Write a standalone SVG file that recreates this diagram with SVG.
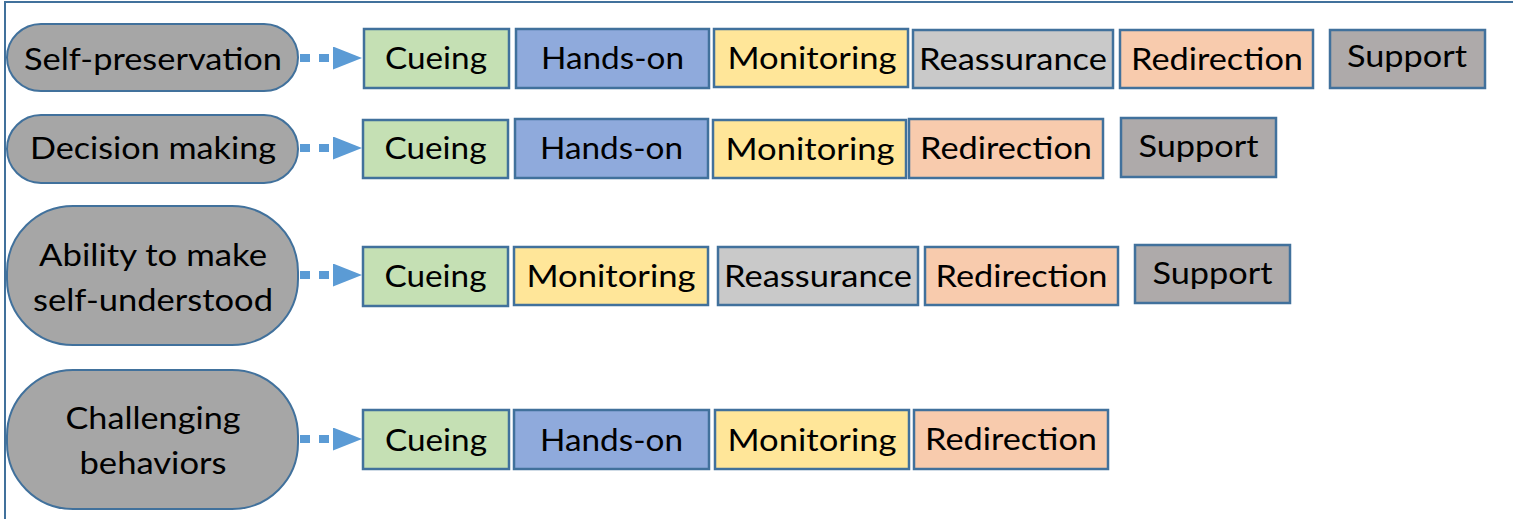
<svg xmlns="http://www.w3.org/2000/svg" width="1513" height="519" viewBox="0 0 1513 519">
<style>
  text { font-family: Lato, "Open Sans", "Liberation Sans", sans-serif; font-size: 31px; fill: #000; text-anchor: middle; }
  .pill { fill: #a6a6a6; stroke: #41719c; stroke-width: 2; }
  .box { stroke: #41719c; stroke-width: 2.5; }
  .cue { fill: #c5e0b4; }
  .hands { fill: #8faadc; }
  .mon { fill: #ffe699; }
  .reas { fill: #c9c9c9; }
  .redir { fill: #f8cbad; }
  .sup { fill: #aeaaaa; }
  .conn { stroke: #5b9bd5; stroke-width: 8; stroke-dasharray: 10 9; fill: none; }
  .frame { stroke: #41719c; stroke-width: 2; fill: none; }
</style>
<defs>
  <marker id="arrow" markerUnits="userSpaceOnUse" markerWidth="30" markerHeight="24" refX="0" refY="11.5" orient="auto">
    <path d="M0,0 L29,11.5 L0,23 Z" fill="#5b9bd5"/>
  </marker>
</defs>
<rect width="1513" height="519" fill="#fff"/>
<path class="frame" d="M5,519 L5,2 L1513,2"/>

<g id="connectors">
  <path class="conn" d="M300,58 L333,58" marker-end="url(#arrow)"/>
  <path class="conn" d="M300,148 L333,148" marker-end="url(#arrow)"/>
  <path class="conn" d="M300,275 L333,275" marker-end="url(#arrow)"/>
  <path class="conn" d="M300,439 L333,439" marker-end="url(#arrow)"/>
</g>

<g id="row1">
  <g id="self-preservation">
    <rect class="pill" x="7" y="24" width="291" height="67" rx="34" ry="33.5"/>
    <text x="153" y="70" textLength="258" lengthAdjust="spacingAndGlyphs">Self-preservation</text>
  </g>
  <g id="r1-cueing"><rect class="box cue" x="364" y="29" width="145" height="59"/><text x="436" y="69" textLength="102" lengthAdjust="spacingAndGlyphs">Cueing</text></g>
  <g id="r1-hands"><rect class="box hands" x="516" y="29" width="193" height="59"/><text x="612.5" y="69" textLength="143" lengthAdjust="spacingAndGlyphs">Hands-on</text></g>
  <g id="r1-monitoring"><rect class="box mon" x="714" y="29" width="194" height="58"/><text x="812" y="69" textLength="169" lengthAdjust="spacingAndGlyphs">Monitoring</text></g>
  <g id="r1-reassurance"><rect class="box reas" x="913" y="30" width="200" height="58"/><text x="1013" y="70" textLength="188" lengthAdjust="spacingAndGlyphs">Reassurance</text></g>
  <g id="r1-redirection"><rect class="box redir" x="1120" y="30" width="193" height="58"/><text x="1217" y="70" textLength="172" lengthAdjust="spacingAndGlyphs">Redirection</text></g>
  <g id="r1-support"><rect class="box sup" x="1330" y="30" width="155" height="58"/><text x="1407" y="67" textLength="120" lengthAdjust="spacingAndGlyphs">Support</text></g>
</g>

<g id="row2">
  <g id="decision-making">
    <rect class="pill" x="7" y="115" width="291" height="68" rx="34" ry="34"/>
    <text x="153" y="159" textLength="246" lengthAdjust="spacingAndGlyphs">Decision making</text>
  </g>
  <g id="r2-cueing"><rect class="box cue" x="363" y="120" width="145" height="58"/><text x="435.5" y="159" textLength="102" lengthAdjust="spacingAndGlyphs">Cueing</text></g>
  <g id="r2-hands"><rect class="box hands" x="515" y="119" width="193" height="59"/><text x="611.5" y="159" textLength="143" lengthAdjust="spacingAndGlyphs">Hands-on</text></g>
  <g id="r2-monitoring"><rect class="box mon" x="713" y="120" width="193" height="58"/><text x="810" y="160" textLength="169" lengthAdjust="spacingAndGlyphs">Monitoring</text></g>
  <g id="r2-redirection"><rect class="box redir" x="909" y="119" width="194" height="59"/><text x="1006" y="159" textLength="172" lengthAdjust="spacingAndGlyphs">Redirection</text></g>
  <g id="r2-support"><rect class="box sup" x="1121" y="118" width="155" height="59"/><text x="1198.5" y="157" textLength="120" lengthAdjust="spacingAndGlyphs">Support</text></g>
</g>

<g id="row3">
  <g id="ability">
    <rect class="pill" x="7" y="206" width="291" height="139" rx="66" ry="66"/>
    <text x="153" y="266" textLength="228" lengthAdjust="spacingAndGlyphs">Ability to make</text>
    <text x="153" y="311" textLength="240" lengthAdjust="spacingAndGlyphs">self-understood</text>
  </g>
  <g id="r3-cueing"><rect class="box cue" x="363" y="247" width="145" height="59"/><text x="435.5" y="287" textLength="102" lengthAdjust="spacingAndGlyphs">Cueing</text></g>
  <g id="r3-monitoring"><rect class="box mon" x="514" y="247" width="194" height="58"/><text x="611" y="287" textLength="169" lengthAdjust="spacingAndGlyphs">Monitoring</text></g>
  <g id="r3-reassurance"><rect class="box reas" x="718" y="247" width="200" height="58"/><text x="818" y="287" textLength="188" lengthAdjust="spacingAndGlyphs">Reassurance</text></g>
  <g id="r3-redirection"><rect class="box redir" x="925" y="247" width="193" height="58"/><text x="1021.5" y="287" textLength="172" lengthAdjust="spacingAndGlyphs">Redirection</text></g>
  <g id="r3-support"><rect class="box sup" x="1135" y="245" width="155" height="58"/><text x="1212.5" y="284" textLength="120" lengthAdjust="spacingAndGlyphs">Support</text></g>
</g>

<g id="row4">
  <g id="challenging">
    <rect class="pill" x="7" y="370" width="291" height="139" rx="66" ry="66"/>
    <text x="153" y="429" textLength="175" lengthAdjust="spacingAndGlyphs">Challenging</text>
    <text x="153" y="474" textLength="147" lengthAdjust="spacingAndGlyphs">behaviors</text>
  </g>
  <g id="r4-cueing"><rect class="box cue" x="363" y="410" width="146" height="59"/><text x="436" y="451" textLength="102" lengthAdjust="spacingAndGlyphs">Cueing</text></g>
  <g id="r4-hands"><rect class="box hands" x="514" y="410" width="195" height="59"/><text x="611.5" y="451" textLength="143" lengthAdjust="spacingAndGlyphs">Hands-on</text></g>
  <g id="r4-monitoring"><rect class="box mon" x="715" y="410" width="194" height="59"/><text x="812" y="451" textLength="169" lengthAdjust="spacingAndGlyphs">Monitoring</text></g>
  <g id="r4-redirection"><rect class="box redir" x="914" y="410" width="194" height="59"/><text x="1011" y="450" textLength="172" lengthAdjust="spacingAndGlyphs">Redirection</text></g>
</g>
</svg>
